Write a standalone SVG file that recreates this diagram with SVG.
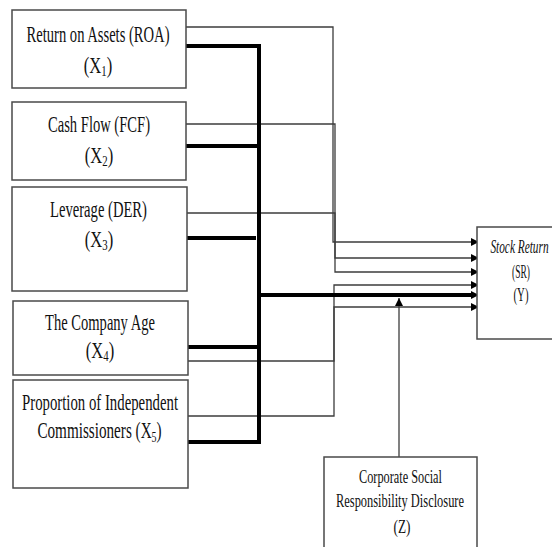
<svg xmlns="http://www.w3.org/2000/svg" width="552" height="547" viewBox="0 0 552 547">
<style>
  .box { fill: #ffffff; stroke: #4a4a4a; stroke-width: 1.5; }
  .t { font-family: "Liberation Serif", "Times New Roman", serif; font-size: 23px; fill: #111; text-anchor: middle; }
  .ts { font-family: "Liberation Serif", "Times New Roman", serif; font-size: 19px; fill: #111; text-anchor: middle; }
  .ty { font-family: "Liberation Serif", "Times New Roman", serif; font-size: 18px; fill: #111; text-anchor: middle; }
  .sub { font-size: 15px; }
  .thin { fill: none; stroke: #3c3c3c; stroke-width: 1.3; }
  .thick { fill: none; stroke: #000; stroke-width: 4; }
</style>
<defs>
  <marker id="arr" markerWidth="8" markerHeight="8" refX="8" refY="4" orient="auto" markerUnits="userSpaceOnUse">
    <path d="M0,0 L8,4 L0,8 Z" fill="#000"/>
  </marker>
</defs>
<rect width="552" height="547" fill="#ffffff"/>

<g id="connectors">
  <path class="thin" d="M186,27 H333 V242 H479" marker-end="url(#arr)"/>
  <path class="thin" d="M186,124 H335 V258 H479" marker-end="url(#arr)"/>
  <path class="thin" d="M187,213 H335 V272 H479" marker-end="url(#arr)"/>
  <path class="thin" d="M188,361 H334 V285 H479" marker-end="url(#arr)"/>
  <path class="thin" d="M188,416 H334 V307 H479" marker-end="url(#arr)"/>
  <path class="thick" d="M186,46 H259 V442 H188"/>
  <path class="thick" d="M186,146 H259"/>
  <path class="thick" d="M187,238 H256"/>
  <path class="thick" d="M188,347 H259"/>
  <path class="thick" d="M259,295 H475"/>
  <path d="M471,291 L479,295 L471,299 Z" fill="#000"/>
  <path class="thin" d="M399,457 V298" marker-end="url(#arr)"/>
</g>

<g id="x1">
  <rect class="box" x="12" y="10" width="174" height="78"/>
  <text class="t" x="98" y="42" textLength="143" lengthAdjust="spacingAndGlyphs">Return on Assets (ROA)</text>
  <text class="t" transform="translate(98,73) scale(0.72,1)">(X<tspan class="sub" baseline-shift="-4">1</tspan>)</text>
</g>
<g id="x2">
  <rect class="box" x="12" y="102" width="174" height="78"/>
  <text class="t" x="99" y="132" textLength="102" lengthAdjust="spacingAndGlyphs">Cash Flow (FCF)</text>
  <text class="t" transform="translate(99,163) scale(0.72,1)">(X<tspan class="sub" baseline-shift="-4">2</tspan>)</text>
</g>
<g id="x3">
  <rect class="box" x="12" y="187" width="175" height="104"/>
  <text class="t" x="98.5" y="217" textLength="97" lengthAdjust="spacingAndGlyphs">Leverage (DER)</text>
  <text class="t" transform="translate(99,247) scale(0.72,1)">(X<tspan class="sub" baseline-shift="-4">3</tspan>)</text>
</g>
<g id="x4">
  <rect class="box" x="13" y="301" width="175" height="74"/>
  <text class="t" x="100" y="330" textLength="110" lengthAdjust="spacingAndGlyphs">The Company Age</text>
  <text class="t" transform="translate(100,358) scale(0.72,1)">(X<tspan class="sub" baseline-shift="-4">4</tspan>)</text>
</g>
<g id="x5">
  <rect class="box" x="13" y="380" width="175" height="108"/>
  <text class="t" x="100" y="410" textLength="156" lengthAdjust="spacingAndGlyphs">Proportion of Independent</text>
  <text class="t" transform="translate(99.5,438) scale(0.66,1)">Commissioners (X<tspan class="sub" baseline-shift="-4">5</tspan>)</text>
</g>
<g id="y">
  <rect class="box" x="477" y="227" width="90" height="112"/>
  <text class="ty" transform="translate(519.5,253) scale(0.63,1)" font-style="italic">Stock Return</text>
  <text class="ty" x="521" y="278" textLength="18" lengthAdjust="spacingAndGlyphs">(SR)</text>
  <text class="ty" x="521" y="301" textLength="15" lengthAdjust="spacingAndGlyphs">(Y)</text>
</g>
<g id="z">
  <rect class="box" x="324" y="457" width="153" height="110"/>
  <text class="ts" x="400.5" y="483" textLength="83" lengthAdjust="spacingAndGlyphs">Corporate Social</text>
  <text class="ts" x="400" y="507" textLength="128" lengthAdjust="spacingAndGlyphs">Responsibility Disclosure</text>
  <text class="ts" x="402" y="533" textLength="17" lengthAdjust="spacingAndGlyphs">(Z)</text>
</g>
</svg>
